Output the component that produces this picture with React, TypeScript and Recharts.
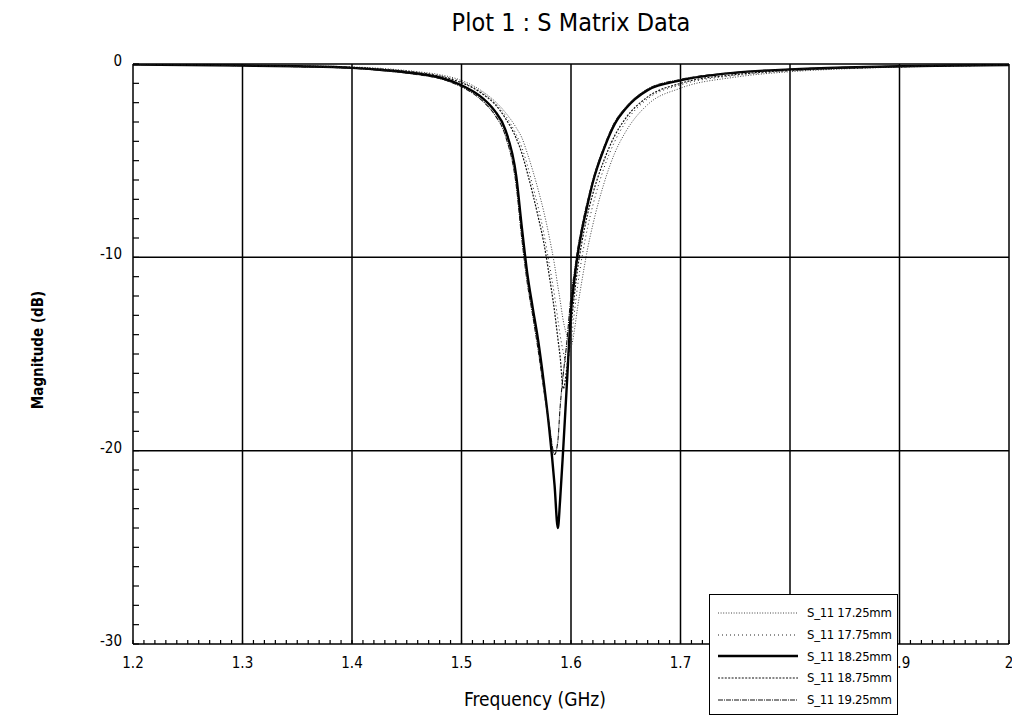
import { LineChart, Line, XAxis, YAxis, ReferenceLine } from 'recharts'

const FONT = '"DejaVu Sans Condensed", "Liberation Sans Narrow", "DejaVu Sans", sans-serif'

// frequency samples (GHz), denser around the resonance
const FREQ = [
  1.2, 1.25, 1.3, 1.35, 1.4,
  1.43, 1.46, 1.48, 1.5,
  1.51, 1.52, 1.53, 1.54, 1.55,
  1.555, 1.56, 1.565, 1.57, 1.575,
  1.58, 1.585, 1.588, 1.59, 1.593,
  1.596, 1.6, 1.603, 1.606, 1.61,
  1.615, 1.62, 1.63, 1.64, 1.65,
  1.67, 1.7, 1.75, 1.8, 1.85,
  1.9, 1.95, 2.0,
]

// S11 magnitude (dB) per patch length
const S_17_25 = [
  -0.02, -0.03, -0.06, -0.09, -0.15,
  -0.24, -0.4, -0.55, -0.85,
  -1.1, -1.45, -1.9, -2.5, -3.3,
  -3.8, -4.6, -5.5, -6.5, -7.6,
  -8.9, -10.4, -11.5, -12.2, -13.3,
  -14.0, -14.6, -13.8, -12.6, -11.2,
  -9.6, -8.3, -6.2, -4.6, -3.5,
  -2.1, -1.25, -0.68, -0.4, -0.25,
  -0.16, -0.1, -0.07,
]
const S_17_75 = [
  -0.02, -0.04, -0.06, -0.1, -0.17,
  -0.27, -0.43, -0.6, -0.92,
  -1.18, -1.52, -1.98, -2.65, -3.65,
  -4.3, -5.2, -6.3, -7.4, -8.7,
  -10.3, -12.0, -13.2, -14.0, -14.9,
  -15.5, -14.4, -12.9, -11.5, -10.0,
  -8.5, -7.3, -5.4, -4.0, -3.0,
  -1.8, -1.08, -0.6, -0.36, -0.23,
  -0.15, -0.1, -0.06,
]
const S_18_25 = [
  -0.03, -0.05, -0.08, -0.12, -0.2,
  -0.32, -0.5, -0.7, -1.1,
  -1.4, -1.8, -2.4, -3.4, -5.8,
  -8.4, -10.8, -12.6, -14.3, -16.4,
  -18.8, -21.8, -24.0, -22.6, -19.8,
  -16.8, -12.8, -11.2, -9.9, -8.6,
  -7.3, -6.1, -4.4, -3.1, -2.3,
  -1.35, -0.85, -0.45, -0.28, -0.18,
  -0.12, -0.08, -0.05,
]
const S_18_75 = [
  -0.02, -0.04, -0.07, -0.11, -0.18,
  -0.29, -0.45, -0.63, -0.97,
  -1.22, -1.58, -2.05, -2.8, -3.85,
  -4.6, -5.6, -6.7, -7.9, -9.2,
  -10.9, -12.8, -14.2, -15.1, -16.8,
  -15.8, -13.6, -12.0, -10.6, -9.2,
  -7.8, -6.7, -5.0, -3.7, -2.8,
  -1.7, -1.0, -0.55, -0.33, -0.21,
  -0.14, -0.09, -0.06,
]
const S_19_25 = [
  -0.03, -0.05, -0.09, -0.14, -0.22,
  -0.35, -0.55, -0.75, -1.18,
  -1.5, -1.95, -2.6, -3.7, -6.3,
  -9.0, -11.3, -13.0, -14.8, -16.8,
  -18.6, -20.2, -19.5, -17.8, -16.0,
  -14.5, -12.0, -10.8, -9.6, -8.4,
  -7.1, -6.0, -4.3, -3.0, -2.25,
  -1.3, -0.8, -0.44, -0.27, -0.17,
  -0.11, -0.07, -0.05,
]

const SERIES_NAMES = ['S_11 17.25mm', 'S_11 17.75mm', 'S_11 18.25mm', 'S_11 18.75mm', 'S_11 19.25mm']
const SERIES_KEYS = ['s1725', 's1775', 's1825', 's1875', 's1925']
const SERIES_STYLE = [
  { width: 1, dash: '1 1.6', color: '#444' },
  { width: 1, dash: '1 3', color: '#222' },
  { width: 2.4, dash: undefined, color: '#000' },
  { width: 1.2, dash: '2 1.4', color: '#111' },
  { width: 1.1, dash: '5 1 1 1', color: '#111' },
]

const X_MAJOR = [1.2, 1.3, 1.4, 1.5, 1.6, 1.7, 1.8, 1.9, 2.0]
const Y_MAJOR = [0, -10, -20, -30]
// minor ticks: 10 subdivisions per major step
const X_TICKS = Array.from({ length: 81 }, (_, i) => Math.round((1.2 + i * 0.01) * 1000) / 1000)
const Y_TICKS = Array.from({ length: 31 }, (_, i) => -i)

const data = FREQ.map((f, i) => ({
  f,
  s1725: S_17_25[i],
  s1775: S_17_75[i],
  s1825: S_18_25[i],
  s1875: S_18_75[i],
  s1925: S_19_25[i],
}))

function XTick({ x, y, payload }: any) {
  const v = payload.value
  const major = Math.abs(v * 10 - Math.round(v * 10)) < 1e-6
  return (
    <g>
      <line x1={x} y1={y} x2={x} y2={y - 4} stroke="#000" strokeWidth={1.2} />
      {major && (
        <text x={x} y={y + 24} textAnchor="middle" fontSize={15} fontFamily={FONT} fill="#000">
          {String(Math.round(v * 10) / 10)}
        </text>
      )}
    </g>
  )
}

function YTick({ x, y, payload }: any) {
  const v = payload.value
  const major = v % 10 === 0
  return (
    <g>
      <line x1={x} y1={y} x2={x + 6} y2={y} stroke="#000" strokeWidth={1.2} />
      {major && (
        <text x={x - 11} y={y + 2} textAnchor="end" fontSize={15} fontFamily={FONT} fill="#000">
          {String(v)}
        </text>
      )}
    </g>
  )
}

export default function App() {
  return (
    <div
      style={{
        position: 'fixed', left: 0, top: 0, width: 1012, height: 725, overflow: 'hidden',
        background: '#fff', fontFamily: FONT,
      }}
    >
      <div style={{ position: 'absolute', left: 133, width: 876, top: 8, textAlign: 'center', fontSize: 25, color: '#000' }}>
        Plot 1 : S Matrix Data
      </div>
      <LineChart width={1012} height={725} data={data} margin={{ top: 64, right: 3, bottom: 0, left: 0 }}>
        <XAxis
          dataKey="f"
          type="number"
          domain={[1.2, 2]}
          ticks={X_TICKS}
          interval={0}
          tick={<XTick />}
          tickLine={false}
          tickSize={0}
          tickMargin={0}
          height={81}
          axisLine={{ stroke: '#000', strokeWidth: 1.5 }}
          allowDataOverflow
        />
        <YAxis
          type="number"
          domain={[-30, 0]}
          ticks={Y_TICKS}
          interval={0}
          tick={<YTick />}
          tickLine={false}
          tickSize={0}
          tickMargin={0}
          width={133}
          axisLine={{ stroke: '#000', strokeWidth: 1.5 }}
          allowDataOverflow
        />
        {X_MAJOR.slice(1).map(v => (
          <ReferenceLine key={'vx' + v} x={v} stroke="#000" strokeWidth={1.5} />
        ))}
        {Y_MAJOR.slice(0, 3).map(v => (
          <ReferenceLine key={'hy' + v} y={v} stroke="#000" strokeWidth={1.5} />
        ))}
        {SERIES_KEYS.map((k, i) => (
          <Line
            key={k}
            type="monotone"
            dataKey={k}
            name={SERIES_NAMES[i]}
            stroke={SERIES_STYLE[i].color}
            strokeWidth={SERIES_STYLE[i].width}
            strokeDasharray={SERIES_STYLE[i].dash}
            dot={false}
            isAnimationActive={false}
          />
        ))}
      </LineChart>
      <div
        style={{
          position: 'absolute', left: 709, top: 594, width: 189, height: 121, boxSizing: 'border-box',
          border: '1.5px solid #000', background: '#fff', paddingTop: 7,
        }}
      >
        {SERIES_NAMES.map((n, i) => (
          <div key={n} style={{ display: 'flex', alignItems: 'center', height: 21.7 }}>
            <svg width={82} height={6} style={{ marginLeft: 8 }}>
              <line
                x1={0} y1={3} x2={80} y2={3}
                stroke={SERIES_STYLE[i].color}
                strokeWidth={SERIES_STYLE[i].width}
                strokeDasharray={SERIES_STYLE[i].dash}
              />
            </svg>
            <span style={{ marginLeft: 7, fontSize: 13, letterSpacing: -0.3, color: '#000' }}>{n}</span>
          </div>
        ))}
      </div>
      <div style={{ position: 'absolute', left: 440, top: 688, width: 190, textAlign: 'center', fontSize: 19, color: '#000' }}>
        Frequency (GHz)
      </div>
      <div
        style={{
          position: 'absolute', left: 38, top: 350, transform: 'translate(-50%, -50%) rotate(-90deg)',
          whiteSpace: 'nowrap', fontSize: 15, fontWeight: 'bold', color: '#000',
        }}
      >
        Magnitude (dB)
      </div>
    </div>
  )
}
